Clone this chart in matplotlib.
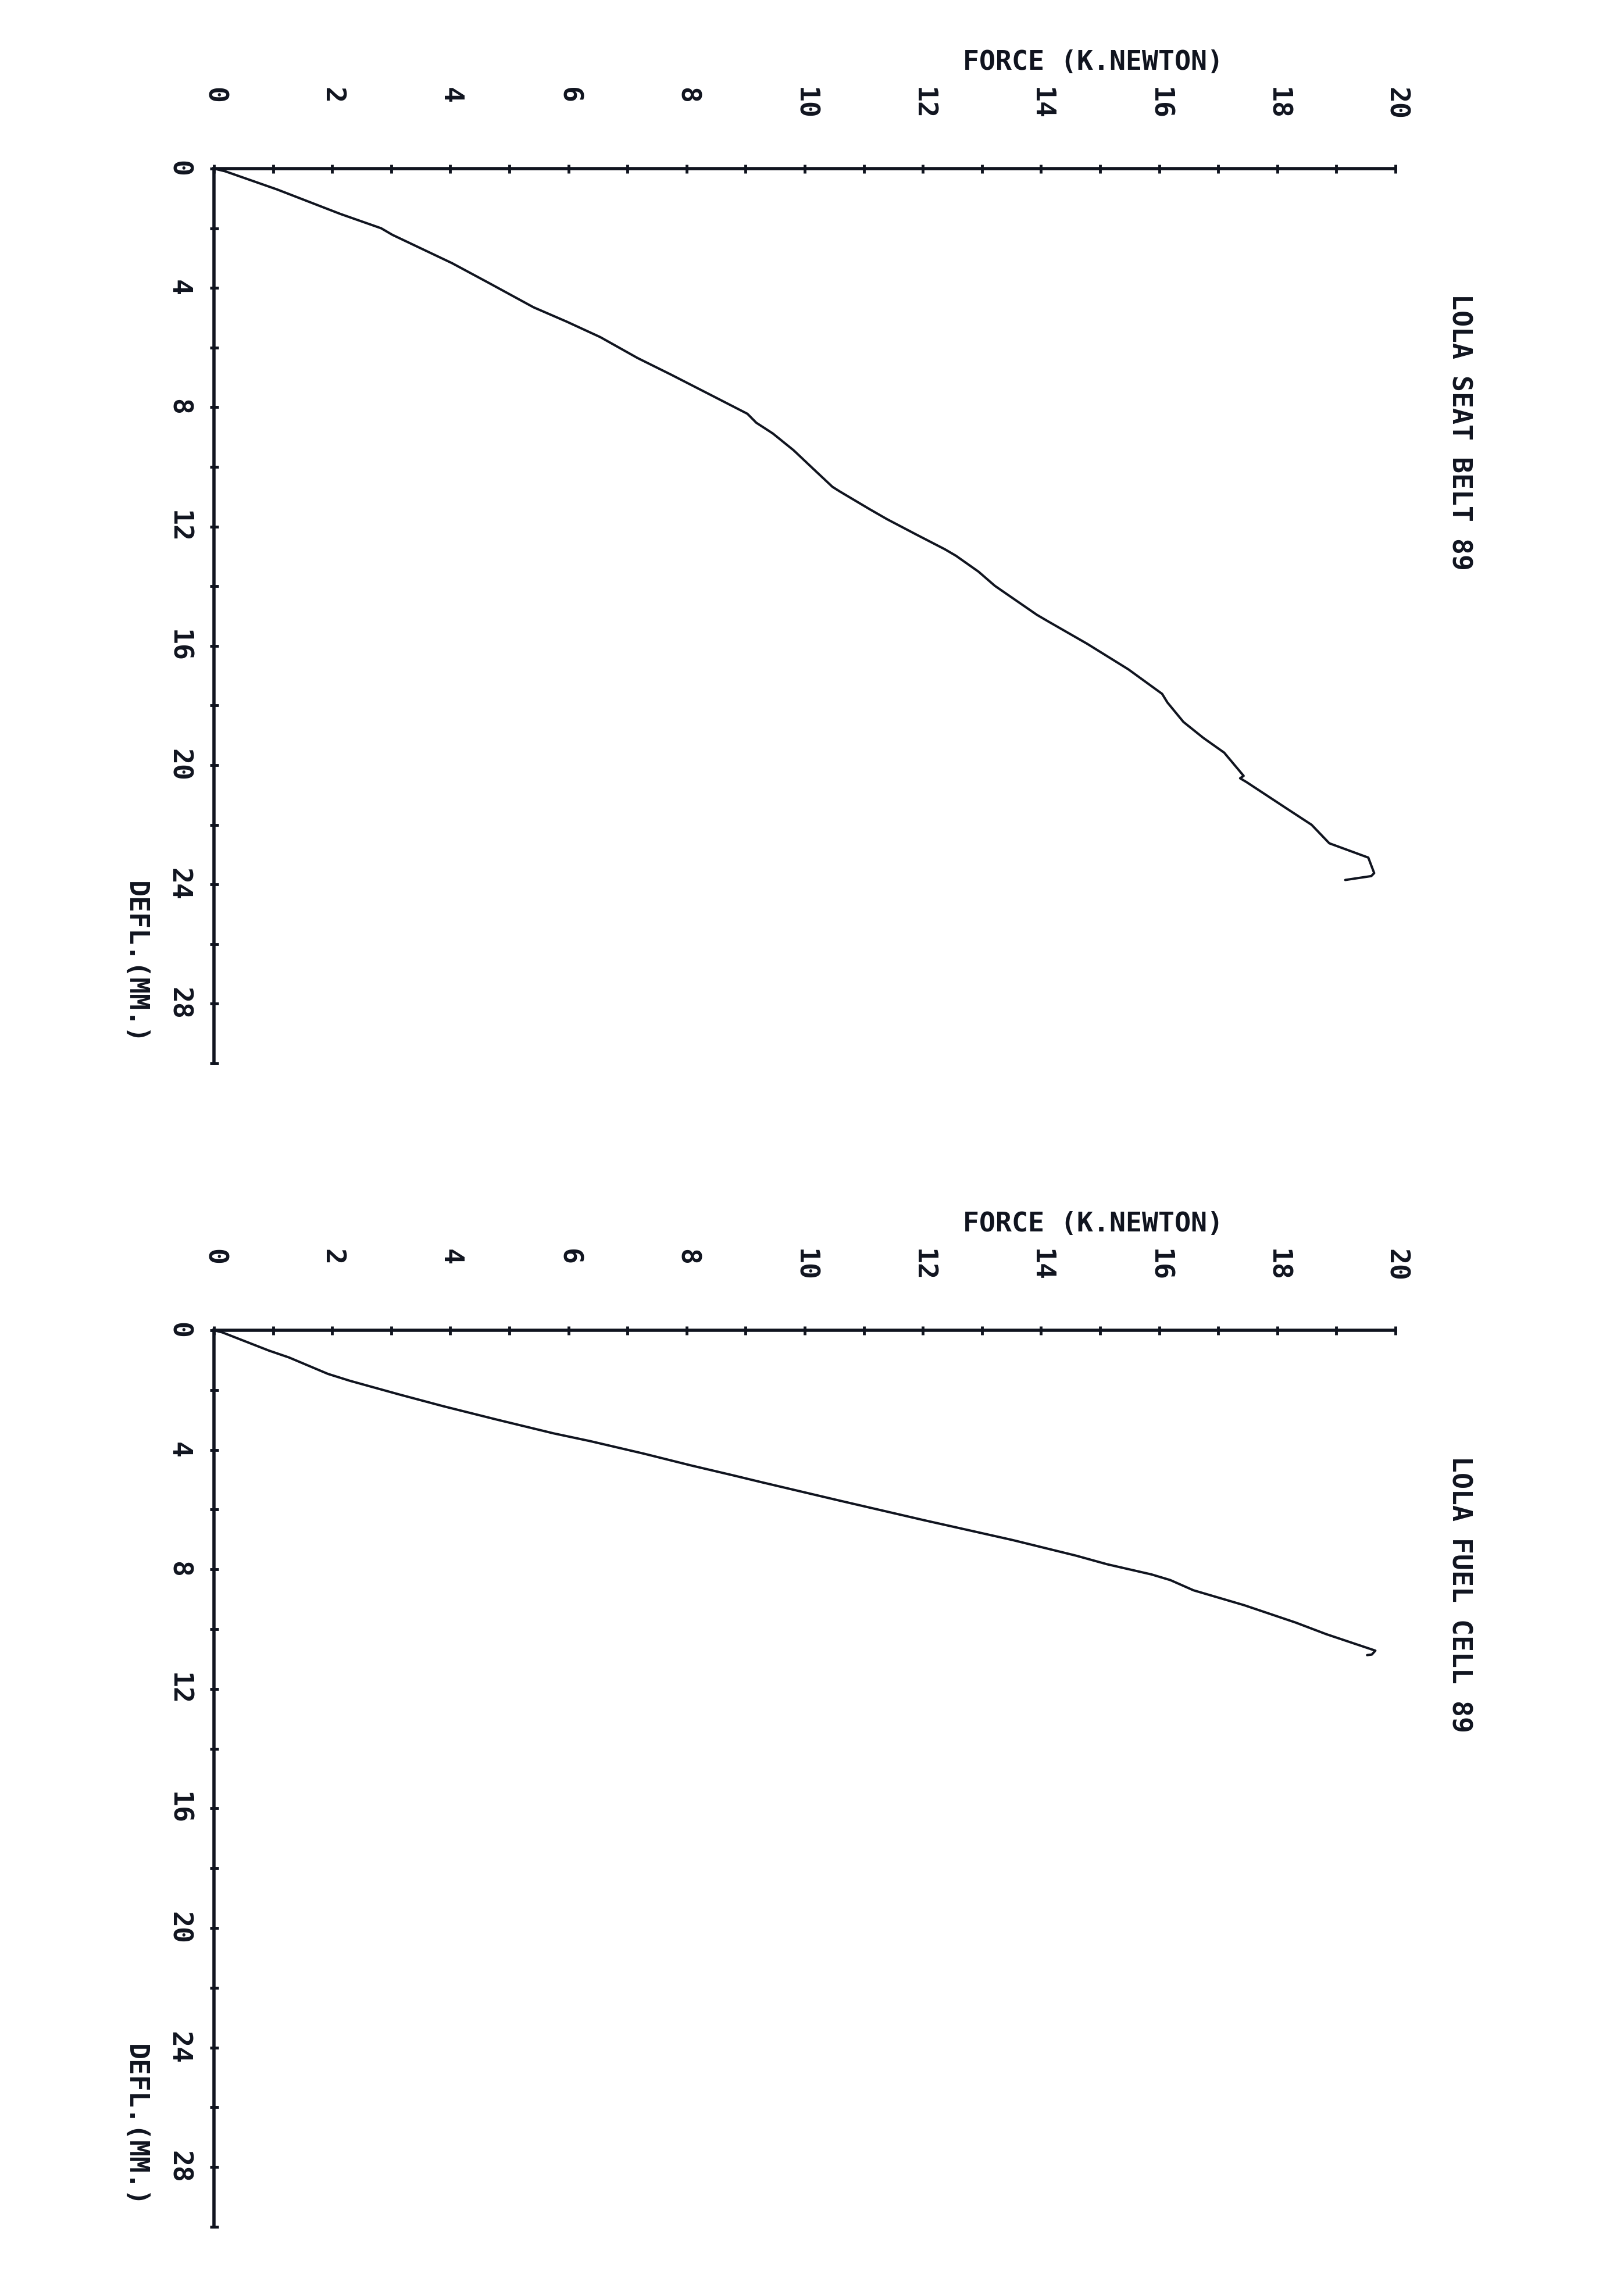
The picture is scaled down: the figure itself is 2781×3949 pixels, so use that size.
#!/usr/bin/python3
# force / deflection plotter sheet, two panels, page turned sideways

import numpy as np
import matplotlib
import matplotlib.pyplot as plt

matplotlib.use('Agg')

# axis ticks and labels
force_ticks = list(range(0, 21))
force_labels = [0, 2, 4, 6, 8, 10, 12, 14, 16, 18, 20]
defl_ticks = list(range(0, 31, 2))
defl_labels = [0, 4, 8, 12, 16, 20, 24, 28]

# LOLA SEAT BELT 89  (force kN, deflection mm)
belt_force = [0.0, 0.19, 1.07, 2.14, 2.83, 3.02, 4.03, 4.65, 5.41, 5.97, 6.54,
              7.17, 7.74, 8.43, 9.03, 9.18, 9.46, 9.81, 10.19, 10.47, 10.59,
              11.10, 11.39, 11.90, 12.37, 12.56, 12.94, 13.22, 13.93, 14.12,
              14.78, 15.48, 16.05, 16.14, 16.41, 16.75, 17.10, 17.43, 17.37,
              17.48, 18.14, 18.58, 18.88, 19.54, 19.64, 19.59, 19.15]
belt_defl = [0.0, 0.09, 0.70, 1.52, 2.00, 2.22, 3.17, 3.83, 4.65, 5.13, 5.65,
             6.35, 6.91, 7.61, 8.22, 8.52, 8.88, 9.44, 10.15, 10.67, 10.82,
             11.42, 11.75, 12.28, 12.76, 12.98, 13.51, 13.99, 14.96, 15.18,
             15.93, 16.79, 17.61, 17.90, 18.55, 19.09, 19.58, 20.36, 20.44,
             20.57, 21.43, 22.00, 22.62, 23.10, 23.62, 23.72, 23.85]

# LOLA FUEL CELL 89
cell_force = [0.0, 0.14, 0.93, 1.27, 1.93, 2.30, 3.14, 3.88, 4.79, 5.75, 6.37,
              7.28, 8.07, 8.80, 9.26, 10.59, 12.03, 12.46, 13.52, 14.59, 15.12,
              15.87, 16.19, 16.58, 17.44, 18.31, 18.83, 19.66, 19.60, 19.52]
cell_defl = [0.0, 0.07, 0.68, 0.91, 1.46, 1.69, 2.15, 2.54, 2.99, 3.45, 3.71,
             4.13, 4.52, 4.86, 5.08, 5.70, 6.36, 6.55, 7.02, 7.54, 7.83,
             8.17, 8.36, 8.70, 9.20, 9.78, 10.17, 10.72, 10.85, 10.87]

titles = ['LOLA SEAT BELT 89', 'LOLA FUEL CELL 89']
xlabel = 'FORCE (K.NEWTON)'
ylabel = 'DEFL.(MM.)'

INK = '#10141f'
PX = 72.0 / 100.0      # one pixel in points at dpi 100
FS = 33.5
FONT = 'DejaVu Sans Mono'


def panel(ax, force, defl, title):
    ax.set_xlim(0, 20)
    ax.set_ylim(30, 0)
    for s in ['bottom', 'right']:
        ax.spines[s].set_visible(False)
    for s in ['top', 'left']:
        ax.spines[s].set_linewidth(4.0)
        ax.spines[s].set_color(INK)
    ax.patch.set_alpha(0)

    ax.xaxis.set_ticks_position('top')
    ax.yaxis.set_ticks_position('left')
    ax.set_xticks(force_ticks)
    ax.set_yticks(defl_ticks)
    ax.tick_params(axis='both', direction='inout', length=15 * PX, width=3.5,
                   color=INK, labeltop=False, labelbottom=False,
                   labelleft=False, labelright=False)

    ax.plot(force, defl, color=INK, lw=2.9, solid_joinstyle='round',
            solid_capstyle='round', clip_on=False)

    kw = dict(xycoords='data', textcoords='offset points', fontsize=FS,
              family=FONT, weight='bold', color=INK, annotation_clip=False)
    for f in force_labels:
        ax.annotate(str(f), xy=(f, 0), xytext=(0, 140 * PX), rotation=270,
                    ha='center', va='top', **kw)
    for d in defl_labels:
        ax.annotate(str(d), xy=(0, d), xytext=(-61 * PX, 0), rotation=270,
                    ha='center', va='center', **kw)
    ax.annotate(xlabel, xy=(14.88, 0), xytext=(0, 183 * PX),
                ha='center', va='center', **kw)
    ax.annotate(ylabel, xy=(0, 23.9), xytext=(-136 * PX, 0), rotation=270,
                ha='center', va='top', **kw)
    ax.annotate(title, xy=(20, 4.2), xytext=(110 * PX, 0), rotation=270,
                ha='center', va='top', **kw)


fig = plt.figure(figsize=(27.81, 39.49), dpi=100)
fig.patch.set_facecolor('white')

W, H = 2781.0, 3949.0
left = 368 / W
width = 2032 / W
ax1 = fig.add_axes([left, 1 - 1829 / H, width, 1539 / H])
ax2 = fig.add_axes([left, 1 - 3830 / H, width, 1542 / H])

panel(ax1, belt_force, belt_defl, titles[0])
panel(ax2, cell_force, cell_defl, titles[1])

fig.savefig('out.png', dpi=100, facecolor='white')
